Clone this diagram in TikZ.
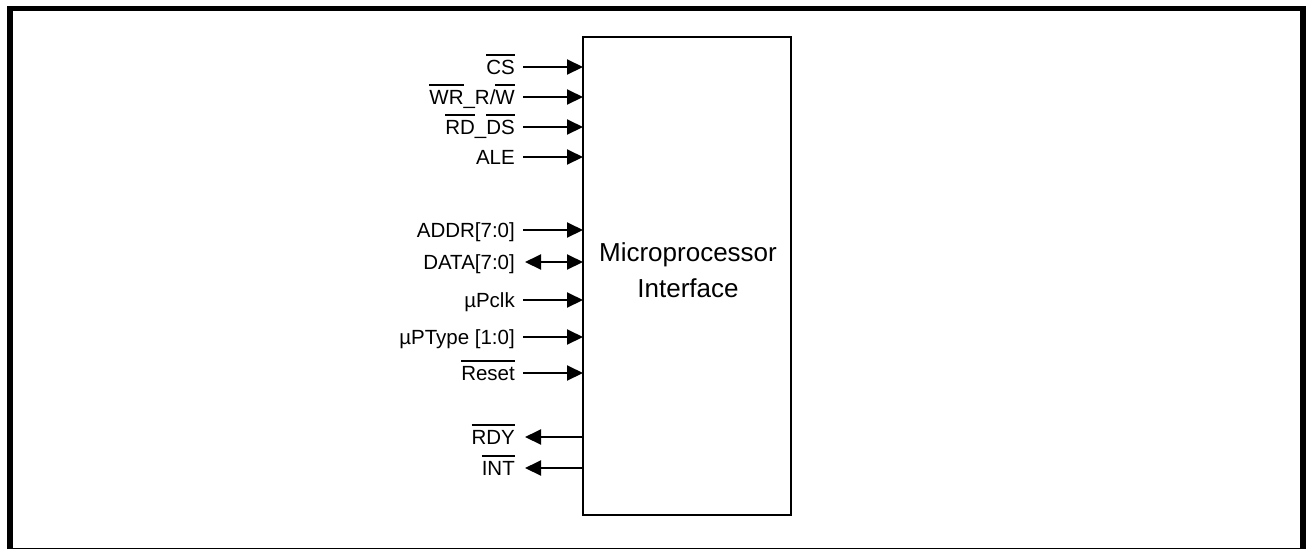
\documentclass[tikz,border=0pt]{standalone}
\usepackage{fontspec}
\setmainfont{Liberation Sans}
\usetikzlibrary{arrows.meta}
\newcommand\olx[1]{\setbox0\hbox{#1}\rlap{\rule[18.5pt]{\wd0}{1.6pt}}\box0}
\tikzset{
  lbl/.style={anchor=base east, inner sep=0pt, font=\fontsize{20.5}{24}\selectfont},
  tip/.tip={Triangle[length=16pt,width=15pt]},
  sig/.style={line width=2pt, -tip},
  bsig/.style={line width=2pt, tip-tip},
  osig/.style={line width=2pt, tip-},
  blk/.style={draw, line width=2pt, minimum width=208pt, minimum height=478pt, inner sep=0pt, outer sep=0pt}
}
\begin{document}
\begin{tikzpicture}[x=1pt,y=-1pt]
\useasboundingbox (0,0) rectangle (1308,550);
% frame
\draw[line width=5.3pt] (10,549) -- (10,8.7) -- (1303,8.7);
\draw[line width=6pt] (1303,6) -- (1303,549);
\draw[line width=1.2pt] (7,548.7) -- (1306,548.7);
% block
\node[blk] (mpi) at (687,276) {};
\node[font=\fontsize{26}{36}\selectfont, align=center, inner sep=0pt] (mpitxt) at (688,270) {Microprocessor\\Interface};
% inputs
\foreach \n/\y/\t in {cs/67/{\olx{CS}}, wr/97/{\olx{WR}\_R/\olx{W}}, rd/127/{\olx{RD}\_\olx{DS}}, ale/157/{ALE},
  addr/230/{ADDR[7:0]}, uclk/300/{µPclk}, utype/337/{µPType [1:0]}, rst/373/{\olx{Reset}}}{
  \node[lbl] (\n) at (515,\y+7) {\t};
  \coordinate (\n A) at (523,\y);
  \draw[sig] (\n A) -- (\n A -| mpi.west);
}
% bidirectional
\node[lbl] (data) at (515,262+7) {DATA[7:0]};
\coordinate (dataA) at (525,262);
\draw[bsig] (dataA) -- (dataA -| mpi.west);
% outputs
\foreach \n/\y/\t in {rdy/437/{\olx{RDY}}, int/468/{\olx{INT}}}{
  \node[lbl] (\n) at (515,\y+7) {\t};
  \coordinate (\n A) at (525,\y);
  \draw[osig] (\n A) -- (\n A -| mpi.west);
}
\end{tikzpicture}
\end{document}
